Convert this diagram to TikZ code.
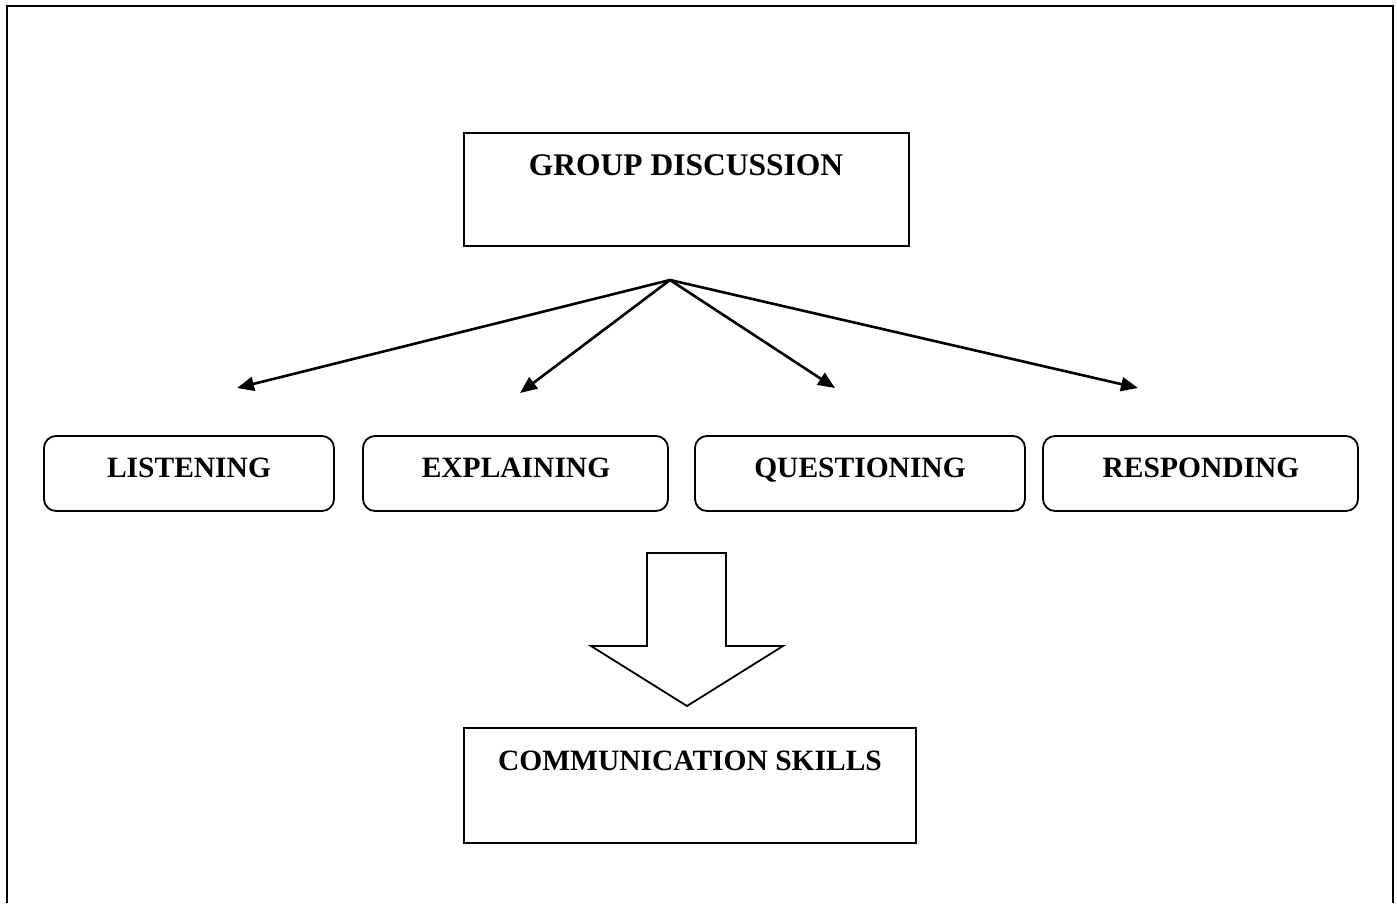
\documentclass[tikz,border=0pt]{standalone}
\usepackage{fontspec}
\setmainfont{Liberation Serif}
\usetikzlibrary{arrows.meta}
\tikzset{
  sqbox/.style={draw, line width=2pt, minimum width=#1, inner sep=0pt},
  rbox/.style={draw, line width=1.8pt, rounded corners=12pt, inner sep=0pt},
  lbl/.style={font=\bfseries\fontsize{29.5}{34}\selectfont, anchor=base, inner sep=0pt},
  conn/.style={line width=2.6pt, -{Triangle[length=17pt,width=14pt]}},
}
\begin{document}
\begin{tikzpicture}[x=1pt,y=-1pt]
\useasboundingbox (0,0) rectangle (1397,903);
% frame
\draw[line width=2.6pt] (7,903) -- (7,6) -- (1393,6) -- (1393,903);
% top box
\node[draw, line width=2pt, minimum width=445pt, minimum height=113pt, inner sep=0pt] (gd) at (686.5,189.5) {};
\node[lbl, font=\bfseries\fontsize{31.5}{36}\selectfont] (gdt) at (686,175) {GROUP DISCUSSION};
% rounded boxes
\node[rbox, minimum width=290pt, minimum height=75pt] (lis) at (189,473.5) {};
\node[rbox, minimum width=305pt, minimum height=75pt] (exp) at (515.5,473.5) {};
\node[rbox, minimum width=330pt, minimum height=75pt] (que) at (860,473.5) {};
\node[rbox, minimum width=315pt, minimum height=75pt] (res) at (1200.5,473.5) {};
\node[lbl] (list) at (189,477) {LISTENING};
\node[lbl] (expt) at (516,477) {EXPLAINING};
\node[lbl] (quet) at (860,477) {QUESTIONING};
\node[lbl] (rest) at (1201,477) {RESPONDING};
% connectors
\coordinate (hub) at (670,280);
\coordinate (t1) at (237,388);
\coordinate (t2) at (520,393);
\coordinate (t3) at (835,388);
\coordinate (t4) at (1138,388);
\draw[conn] (hub) -- (t1);
\draw[conn] (hub) -- (t2);
\draw[conn] (hub) -- (t3);
\draw[conn] (hub) -- (t4);
% block arrow
\draw[line width=1.8pt, line join=miter] (647,553) -- (726,553) -- (726,646) -- (783,646) -- (687,706) -- (591,646) -- (647,646) -- cycle;
% bottom box
\node[draw, line width=2pt, minimum width=452pt, minimum height=115pt, inner sep=0pt] (cs) at (690,785.5) {};
\node[lbl] (cst) at (690,770) {COMMUNICATION SKILLS};
\end{tikzpicture}
\end{document}
